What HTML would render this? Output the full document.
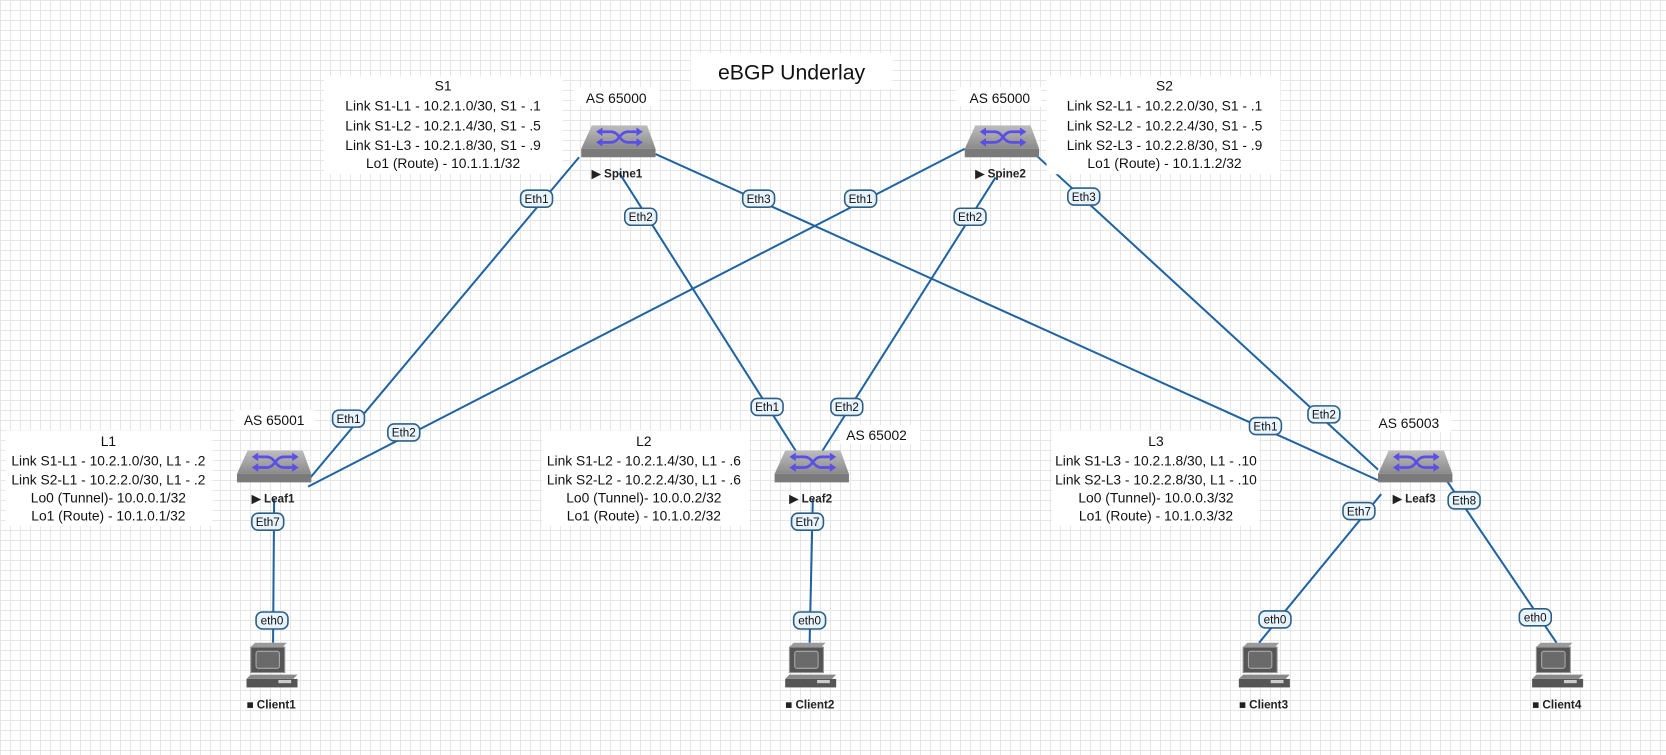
<!DOCTYPE html>
<html><head><meta charset="utf-8"><style>
body{margin:0;width:1666px;height:755px;overflow:hidden;background:#fff;
background-image:linear-gradient(#e6e6e6 1px,transparent 1px),linear-gradient(90deg,#e6e6e6 1px,transparent 1px);
background-size:10px 10px;font-family:"Liberation Sans",sans-serif;}
svg{position:absolute;left:0;top:0}
</style></head><body>
<svg width="1666" height="755" viewBox="0 0 1568 710.6" font-family="Liberation Sans, sans-serif">
<defs>
<linearGradient id="sw" x1="0" y1="0" x2="0" y2="1"><stop offset="0" stop-color="#bdbdbd"/><stop offset="1" stop-color="#8a8a8a"/></linearGradient>
<g id="switch">
<polygon points="10,0 62,0 70,22 0,22" fill="url(#sw)"/>
<rect x="0" y="22" width="70" height="8" fill="#7a7a7a"/>
<g stroke="#5a4ee8" stroke-width="2.5" fill="none">
<path d="M20,6 H28 C36,6 36,16 44,16 H52"/><path d="M20,16 H28 C36,16 36,6 44,6 H52"/>
</g>
<polygon points="52,2 58,6 52,10" fill="#5a4ee8"/><polygon points="52,12 58,16 52,20" fill="#5a4ee8"/>
<polygon points="20,2 14,6 20,10" fill="#5a4ee8"/><polygon points="20,12 14,16 20,20" fill="#5a4ee8"/>
</g>
<g id="pc">
<polygon points="8,0 38,0 34,4 4,4" fill="#9a9a9a"/>
<rect x="4" y="4" width="32" height="24" fill="#555" stroke="#999"/>
<rect x="9" y="8" width="22" height="16" rx="2" fill="#6a6a6a" stroke="#aaa"/>
<polygon points="0,34 44,34 48,30 4,30" fill="#888"/>
<rect x="0" y="34" width="48" height="8" fill="#555"/>
<rect x="30" y="35" width="12" height="3" fill="#ccc"/>
</g>
</defs>
<g stroke="#1f63a0" stroke-width="1.9" fill="none">
<line x1="545" y1="148" x2="290" y2="452"/>
<line x1="583" y1="163" x2="750" y2="426"/>
<line x1="617" y1="145" x2="1297" y2="452"/>
<line x1="908" y1="140" x2="290" y2="458"/>
<line x1="937" y1="167" x2="773" y2="426"/>
<line x1="974" y1="145" x2="1297" y2="442"/>
<line x1="258" y1="470" x2="257" y2="605"/>
<line x1="765" y1="470" x2="762" y2="605"/>
<line x1="1300" y1="465" x2="1185" y2="605"/>
<line x1="1360" y1="450" x2="1465" y2="605"/>
</g>
<g fill="#fff">
<rect x="650" y="50" width="190" height="34"/>
<rect x="305" y="72" width="225" height="92"/>
<rect x="985" y="72" width="220" height="92"/>
<rect x="5" y="405" width="195" height="90"/>
<rect x="510" y="405" width="195" height="90"/>
<rect x="990" y="405" width="195" height="90"/>
<rect x="540" y="82" width="80" height="18"/><rect x="900" y="82" width="80" height="18"/>
<rect x="220" y="386" width="76" height="18"/><rect x="790" y="400" width="76" height="18"/><rect x="1290" y="389" width="76" height="18"/>
</g>
<use href="#switch" x="547" y="118"/><use href="#switch" x="908" y="118"/>
<use href="#switch" x="223" y="424"/><use href="#switch" x="729" y="424"/><use href="#switch" x="1297" y="424"/>
<use href="#pc" x="232" y="605"/><use href="#pc" x="739" y="605"/><use href="#pc" x="1166" y="605"/><use href="#pc" x="1442" y="605"/>
<g font-size="11" fill="#222" font-weight="bold">
<text x="557" y="167">▶ Spine1</text><text x="918" y="167">▶ Spine2</text>
<text x="237" y="473">▶ Leaf1</text><text x="743" y="473">▶ Leaf2</text><text x="1311" y="473">▶ Leaf3</text>
<text x="232" y="667">■ Client1</text><text x="739" y="667">■ Client2</text><text x="1166" y="667">■ Client3</text><text x="1442" y="667">■ Client4</text>
</g>
<g font-size="13" fill="#111" text-anchor="middle">
<text x="745" y="75" font-size="20">eBGP Underlay</text>
<text x="580" y="97">AS 65000</text><text x="941" y="97">AS 65000</text>
<text x="258" y="400">AS 65001</text><text x="825" y="414">AS 65002</text><text x="1326" y="403">AS 65003</text>
<text x="417" y="85">S1</text><text x="417" y="104">Link S1-L1 - 10.2.1.0/30, S1 - .1</text><text x="417" y="123">Link S1-L2 - 10.2.1.4/30, S1 - .5</text><text x="417" y="141">Link S1-L3 - 10.2.1.8/30, S1 - .9</text><text x="417" y="158">Lo1 (Route) - 10.1.1.1/32</text>
<text x="1096" y="85">S2</text><text x="1096" y="104">Link S2-L1 - 10.2.2.0/30, S1 - .1</text><text x="1096" y="123">Link S2-L2 - 10.2.2.4/30, S1 - .5</text><text x="1096" y="141">Link S2-L3 - 10.2.2.8/30, S1 - .9</text><text x="1096" y="158">Lo1 (Route) - 10.1.1.2/32</text>
<text x="102" y="420">L1</text><text x="102" y="438">Link S1-L1 - 10.2.1.0/30, L1 - .2</text><text x="102" y="456">Link S2-L1 - 10.2.2.0/30, L1 - .2</text><text x="102" y="473">Lo0 (Tunnel)- 10.0.0.1/32</text><text x="102" y="490">Lo1 (Route) - 10.1.0.1/32</text>
<text x="606" y="420">L2</text><text x="606" y="438">Link S1-L2 - 10.2.1.4/30, L1 - .6</text><text x="606" y="456">Link S2-L2 - 10.2.2.4/30, L1 - .6</text><text x="606" y="473">Lo0 (Tunnel)- 10.0.0.2/32</text><text x="606" y="490">Lo1 (Route) - 10.1.0.2/32</text>
<text x="1088" y="420">L3</text><text x="1088" y="438">Link S1-L3 - 10.2.1.8/30, L1 - .10</text><text x="1088" y="456">Link S2-L3 - 10.2.2.8/30, L1 - .10</text><text x="1088" y="473">Lo0 (Tunnel)- 10.0.0.3/32</text><text x="1088" y="490">Lo1 (Route) - 10.1.0.3/32</text>
</g>
<g font-size="11" fill="#111" text-anchor="middle">
<g stroke="#2d5f86" stroke-width="1.5" fill="#e8f3fb">
<rect x="490" y="179" width="30" height="16" rx="6"/><rect x="313" y="386" width="30" height="16" rx="6"/>
<rect x="588" y="196" width="30" height="16" rx="6"/><rect x="707" y="375" width="30" height="16" rx="6"/>
<rect x="699" y="179" width="30" height="16" rx="6"/><rect x="1176" y="393" width="30" height="16" rx="6"/>
<rect x="795" y="179" width="30" height="16" rx="6"/><rect x="365" y="399" width="30" height="16" rx="6"/>
<rect x="898" y="196" width="30" height="16" rx="6"/><rect x="782" y="375" width="30" height="16" rx="6"/>
<rect x="1005" y="177" width="30" height="16" rx="6"/><rect x="1231" y="382" width="30" height="16" rx="6"/>
<rect x="237" y="483" width="30" height="16" rx="6"/><rect x="241" y="576" width="30" height="16" rx="6"/>
<rect x="745" y="483" width="30" height="16" rx="6"/><rect x="747" y="576" width="30" height="16" rx="6"/>
<rect x="1264" y="473" width="30" height="16" rx="6"/><rect x="1185" y="575" width="30" height="16" rx="6"/>
<rect x="1363" y="463" width="30" height="16" rx="6"/><rect x="1430" y="573" width="30" height="16" rx="6"/>
</g>
<text x="505" y="191">Eth1</text><text x="328" y="398">Eth1</text>
<text x="603" y="208">Eth2</text><text x="722" y="387">Eth1</text>
<text x="714" y="191">Eth3</text><text x="1191" y="405">Eth1</text>
<text x="810" y="191">Eth1</text><text x="380" y="411">Eth2</text>
<text x="913" y="208">Eth2</text><text x="797" y="387">Eth2</text>
<text x="1020" y="189">Eth3</text><text x="1246" y="394">Eth2</text>
<text x="252" y="495">Eth7</text><text x="256" y="588">eth0</text>
<text x="760" y="495">Eth7</text><text x="762" y="588">eth0</text>
<text x="1279" y="485">Eth7</text><text x="1200" y="587">eth0</text>
<text x="1378" y="475">Eth8</text><text x="1445" y="585">eth0</text>
</g>
</svg>
</body></html>
